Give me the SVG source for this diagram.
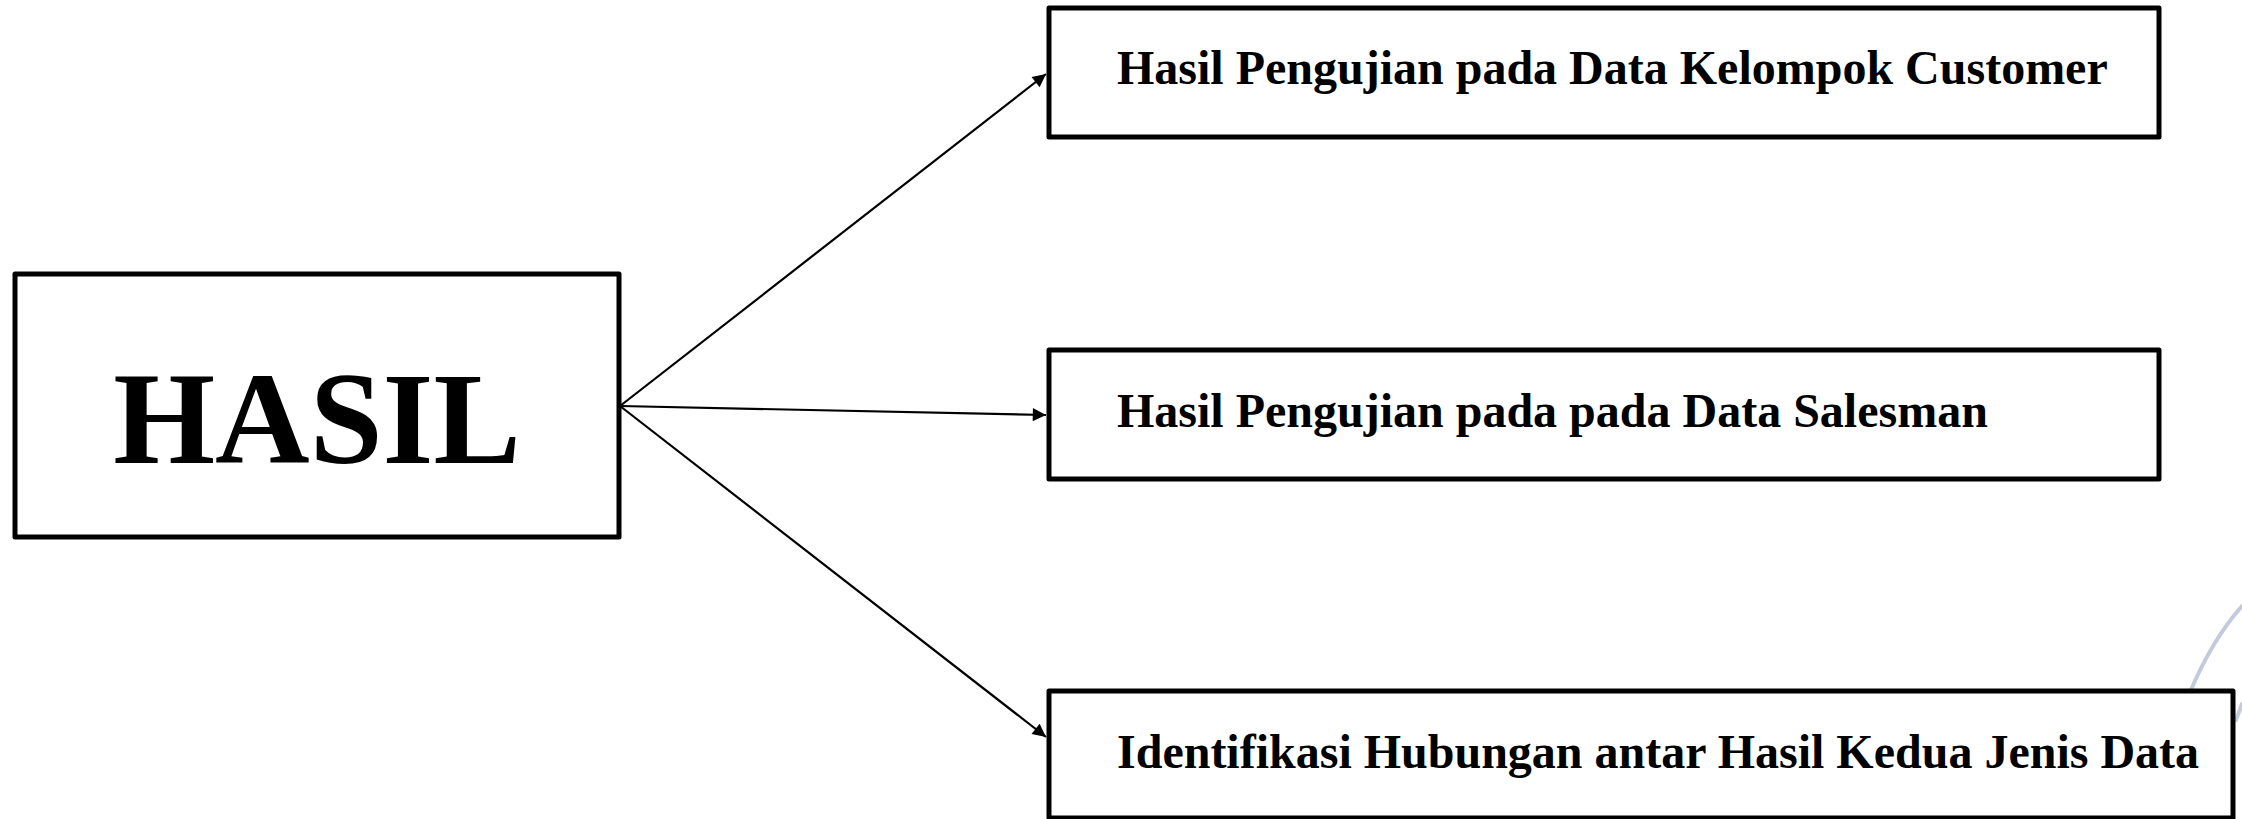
<svg xmlns="http://www.w3.org/2000/svg" width="2242" height="819" viewBox="0 0 2242 819">
<style>
.box{fill:#ffffff;stroke:#000000;stroke-width:5;stroke-linejoin:round}
.lbl{font-family:"Liberation Serif","Times New Roman",serif;font-weight:bold;fill:#000000;font-size:48px}
.big{font-family:"Liberation Serif","Times New Roman",serif;font-weight:bold;fill:#000000;font-size:131px}
.conn{stroke:#000000;stroke-width:2.2;fill:none}
.deco{stroke:#c3cadb;stroke-width:4;fill:none;stroke-linecap:round}
</style>
<defs>
<marker id="arr" viewBox="0 0 10 10" refX="10" refY="5" markerWidth="7" markerHeight="6" markerUnits="strokeWidth" orient="auto">
<path d="M0,0 L10,5 L0,10 z" fill="#000000"/>
</marker>
</defs>
<rect width="2242" height="819" fill="#ffffff"/>
<g id="decoration">
<path class="deco" d="M2242,606 Q2212,640 2191,690"/>
<path class="deco" d="M2236,720 L2242,704"/>
</g>
<g id="node-hasil">
<rect class="box" x="15" y="274" width="604" height="263"/>
<text class="big" x="317" y="463" text-anchor="middle">HASIL</text>
</g>
<g id="node-customer">
<rect class="box" x="1049" y="8" width="1110" height="129"/>
<text class="lbl" x="1117" y="84">Hasil Pengujian pada Data Kelompok Customer</text>
</g>
<g id="node-salesman">
<rect class="box" x="1049" y="350" width="1110" height="129"/>
<text class="lbl" x="1117" y="427">Hasil Pengujian pada pada Data Salesman</text>
</g>
<g id="node-identifikasi">
<rect class="box" x="1049" y="691" width="1184" height="127"/>
<text class="lbl" x="1117" y="768">Identifikasi Hubungan antar Hasil Kedua Jenis Data</text>
</g>
<g id="connectors">
<line class="conn" x1="620" y1="406" x2="1046" y2="74" marker-end="url(#arr)"/>
<line class="conn" x1="620" y1="406" x2="1046" y2="415" marker-end="url(#arr)"/>
<line class="conn" x1="620" y1="406" x2="1046" y2="737" marker-end="url(#arr)"/>
</g>
</svg>
